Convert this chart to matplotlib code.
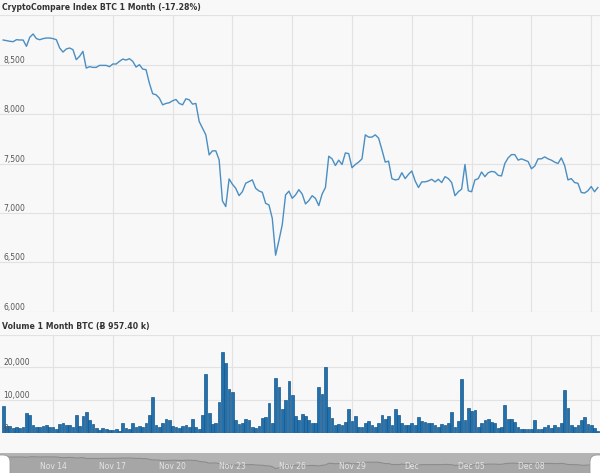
import matplotlib
matplotlib.use("Agg")
import matplotlib.pyplot as plt
import matplotlib.dates as mdates
import matplotlib.transforms as mtransforms
from matplotlib.patches import FancyBboxPatch
import pandas as pd

# 4-hourly BTC index readings, Nov 11 12:00 -> Dec 11 08:00
price = [
    8750, 8743, 8737, 8733, 8753, 8750, 8750, 8686, 8777, 8811,
    8764, 8753, 8764, 8770, 8770, 8764, 8753, 8669, 8628, 8659,
    8669, 8652, 8551, 8585, 8635, 8466, 8480, 8473, 8473, 8493,
    8493, 8493, 8480, 8507, 8507, 8534, 8557, 8547, 8561, 8534,
    8476, 8500, 8456, 8449, 8314,
    8206, 8196, 8162, 8094, 8108, 8115, 8135, 8148, 8108, 8094,
    8155, 8145, 8101, 8108, 7925, 7858, 7790, 7587, 7628, 7628,
    7537, 7121, 7064, 7344, 7290, 7249, 7175, 7215, 7300, 7317,
    7334, 7249, 7222, 7209, 7097, 7080, 6945, 6572, 6720, 6880,
    7182, 7220, 7148, 7182, 7235,
    7191, 7091, 7124, 7174, 7147, 7074, 7191, 7257, 7574, 7547,
    7480, 7534, 7490, 7607, 7600, 7457, 7490, 7514, 7547, 7790,
    7767, 7767, 7790, 7757, 7640, 7514, 7524, 7347, 7334, 7340,
    7407, 7347, 7390, 7424, 7324, 7257, 7314, 7314, 7324, 7340,
    7314, 7340, 7307, 7367, 7347,
    7307, 7174, 7214, 7241, 7490, 7224, 7214, 7334, 7347, 7414,
    7367, 7407, 7420, 7414, 7380, 7374, 7500, 7557, 7590, 7590,
    7534, 7547, 7534, 7520, 7447, 7474, 7547, 7547, 7567, 7547,
    7534, 7514, 7500, 7557, 7480, 7334, 7347, 7307, 7300, 7207,
    7201, 7224, 7267, 7214, 7257,
]

volume = [
    8160, 2140, 1940, 1330, 1630, 1330, 1630, 5920, 5510, 2350,
    1630, 1630, 2040, 2240, 1630, 1630, 1220, 2650, 3060, 2450,
    2450, 1840, 5510, 2040, 5100, 6320, 3880, 2650, 1330, 820,
    1330, 1020, 820, 820, 1020, 610, 3060, 1430, 1020, 2860,
    1630, 2040, 1630, 3060, 5300, 10810, 2240, 1630, 3060, 4180,
    3880, 2040, 1630, 1430, 2040, 2240, 1630, 4280, 1630, 1220,
    5510, 17850, 6120, 2650, 2860, 9380, 24680, 21220, 13260, 12440,
    3880, 2650, 2860, 4080, 3880, 1630, 1430, 2040, 4390, 4900,
    9180, 2860, 16730, 14080, 7140, 10000, 15910, 11420, 5100, 3880,
    5710, 5100, 3880, 3060, 2860, 13870, 11830, 20200, 7960, 4490,
    2240, 2650, 2450, 3260, 7140, 3470, 5100, 1840, 1630, 3060,
    3470, 2450, 1840, 3060, 5510, 4280, 5100, 2240, 7140, 5410,
    2860, 2450, 2240, 3060, 2240, 4690, 3470, 3260, 3060, 3060,
    2240, 1630, 2650, 2240, 2860, 6320, 1630, 3470, 16320, 3880,
    7550, 6730, 6940, 1630, 2860, 3880, 4280, 3260, 2860, 1430,
    1630, 8570, 4280, 4080, 3260, 1630, 1220, 1020, 1020, 1220,
    3880, 1020, 1020, 1630, 2450, 1430, 2240, 1630, 2860, 13060,
    7550, 2350, 1840, 2450, 3880, 4900, 2650, 2240, 1430, 610,
]

price_ticks = [6000, 6500, 7000, 7500, 8000, 8500]
volume_ticks = [0, 10000, 20000]
nav_labels = ["Nov 14", "Nov 17", "Nov 20", "Nov 23", "Nov 26", "Nov 29",
              "Dec", "Dec 05", "Dec 08"]

times = pd.date_range("2017-11-11 12:00", periods=len(price), freq="4h")
grid_dates = pd.date_range("2017-11-14", periods=10, freq="3D")
x_start = pd.Timestamp("2017-11-11 08:10")
x_end = pd.Timestamp("2017-12-11 10:35")

BG = "#f8f8f8"
GRID = "#e2e2e2"
FONT = "DejaVu Sans"

W, H = 600, 473
fig = plt.figure(figsize=(W / 100, H / 100), dpi=100, facecolor=BG)


def px_axes(top, bottom):
    return fig.add_axes([0, 1 - bottom / H, 1, (bottom - top) / H])


def style_axes(ax, yticks, ylim):
    ax.set_facecolor(BG)
    ax.set_xlim(x_start, x_end)
    ax.set_ylim(*ylim)
    ax.set_yticks(yticks)
    ax.set_xticks(grid_dates)
    ax.grid(True, color=GRID, linewidth=0.8)
    ax.set_axisbelow(True)
    ax.tick_params(length=0, labelleft=False, labelbottom=False)
    for spine in ax.spines.values():
        spine.set_visible(False)


def tick_labels(ax, values):
    trans = mtransforms.blended_transform_factory(ax.transAxes, ax.transData)
    for v in values:
        ax.annotate(f"{v:,}", xy=(0, v), xycoords=trans, xytext=(3, 2),
                    textcoords="offset pixels", ha="left", va="baseline",
                    fontsize=5.5, color="#555555", family=FONT)


# price panel
ax_p = px_axes(15.3, 311.7)
style_axes(ax_p, price_ticks + [9000], (6000, 9000))
ax_p.plot(times, price, color="#4a8ec2", linewidth=1.0)
tick_labels(ax_p, price_ticks)

# volume panel
ax_v = px_axes(334.7, 432.7)
style_axes(ax_v, volume_ticks + [30000], (0, 30000))
ax_v.bar(times, volume, width=pd.Timedelta(hours=3.3), color="#2271ad",
         edgecolor="#17588b", linewidth=0.5)
tick_labels(ax_v, volume_ticks)

fig.text(2 / W, 1 - 8 / H, "CryptoCompare Index BTC 1 Month (-17.28%)",
         ha="left", va="center", fontsize=5.6, fontweight="bold",
         color="#333333", family=FONT)
fig.text(2 / W, 1 - 327 / H, "Volume 1 Month BTC (Ƀ 957.40 k)",
         ha="left", va="center", fontsize=5.6, fontweight="bold",
         color="#333333", family=FONT)

# navigator strip
ax_n = px_axes(453, 473)
ax_n.set_facecolor("#b3b3b3")
ax_n.set_xlim(x_start, x_end)
ax_n.set_ylim(5750, 9500)
ax_n.fill_between(times, price, 5750, color="#a6a6a6", linewidth=0)
ax_n.plot(times, price, color="#8c8c8c", linewidth=0.8)
ax_n.set_xticks([])
ax_n.set_yticks([])
for spine in ax_n.spines.values():
    spine.set_visible(False)
nav_trans = mtransforms.blended_transform_factory(ax_n.transData, ax_n.transAxes)
for d, lab in zip(grid_dates, nav_labels):
    ax_n.text(d, 0.32, lab, transform=nav_trans, ha="center", va="center",
              fontsize=5.5, color="#e4e4e4", family=FONT)

# navigator handles (pixel coordinates)
ident = mtransforms.IdentityTransform()
for x0 in (-8, 590):
    fig.patches.append(FancyBboxPatch((x0, -6), 18, 24,
                                      boxstyle="round,pad=0,rounding_size=7",
                                      transform=ident, facecolor="white",
                                      edgecolor="#999999", linewidth=0.6))

fig.savefig("out.png", dpi=100, facecolor=BG)
